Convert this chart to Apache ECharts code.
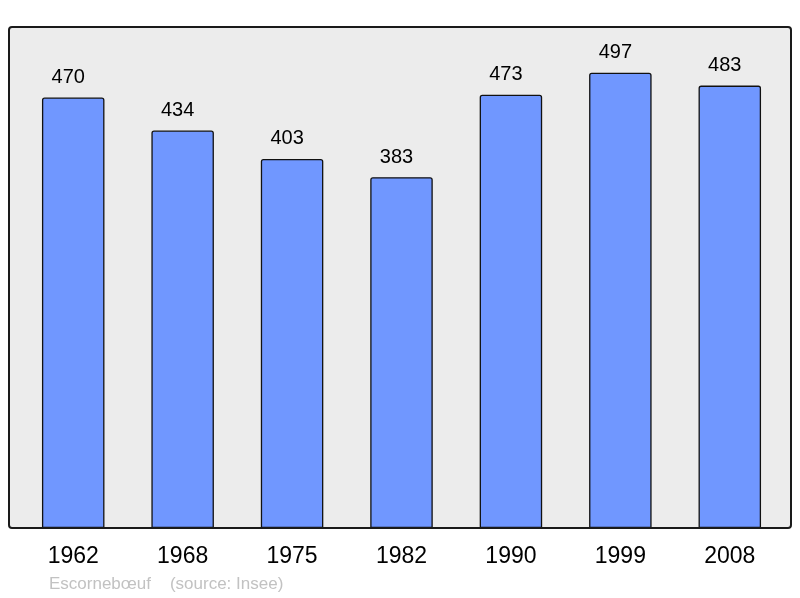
<!DOCTYPE html>
<html><head><meta charset="utf-8">
<script src="https://cdn.jsdelivr.net/npm/echarts@6/dist/echarts.min.js"></script>
<style>html,body{margin:0;padding:0;background:#fff}#c{width:800px;height:598px}</style>
</head><body><div id="c"></div>
<script>
var years = ['1962','1968','1975','1982','1990','1999','2008'];
var population = [470,434,403,383,473,497,483];
var caption = 'Escornebœuf    (source: Insee)';

var chart = echarts.init(document.getElementById('c'), null, {renderer:'canvas'});
chart.setOption({
  animation:false,
  grid:{left:18.5, right:15.5, top:27, bottom:70},
  xAxis:{type:'category', data:years,
    axisLine:{show:false}, axisTick:{show:false},
    axisLabel:{color:'#000', fontSize:23, fontFamily:'Liberation Sans, Arial, sans-serif', margin:17}},
  yAxis:{type:'value', min:0, max:547, show:false, splitLine:{show:false}},
  graphic:[
    {type:'rect', z:-10, silent:true, shape:{x:9,y:27,width:782,height:501,r:3},
     style:{fill:'#ececec', stroke:'none'}},
    {type:'rect', z:100, silent:true, shape:{x:9,y:27,width:782,height:501,r:3},
     style:{fill:'none', stroke:'#1a1a1a', lineWidth:2}},
    {type:'text', left:49, top:576, silent:true,
     style:{text:caption, fill:'#c2c2c2', fontSize:17, fontFamily:'Liberation Sans, Arial, sans-serif'}}
  ],
  series:[{type:'bar', data:population, barWidth:62.5,
    itemStyle:{color:'#7097ff', borderColor:'#111', borderWidth:1.3, borderRadius:[2,2,0,0]},
    label:{show:true, position:'top', distance:10, offset:[-5,0], color:'#000', fontSize:20,
      fontFamily:'Liberation Sans, Arial, sans-serif'}}]
});
</script></body></html>
